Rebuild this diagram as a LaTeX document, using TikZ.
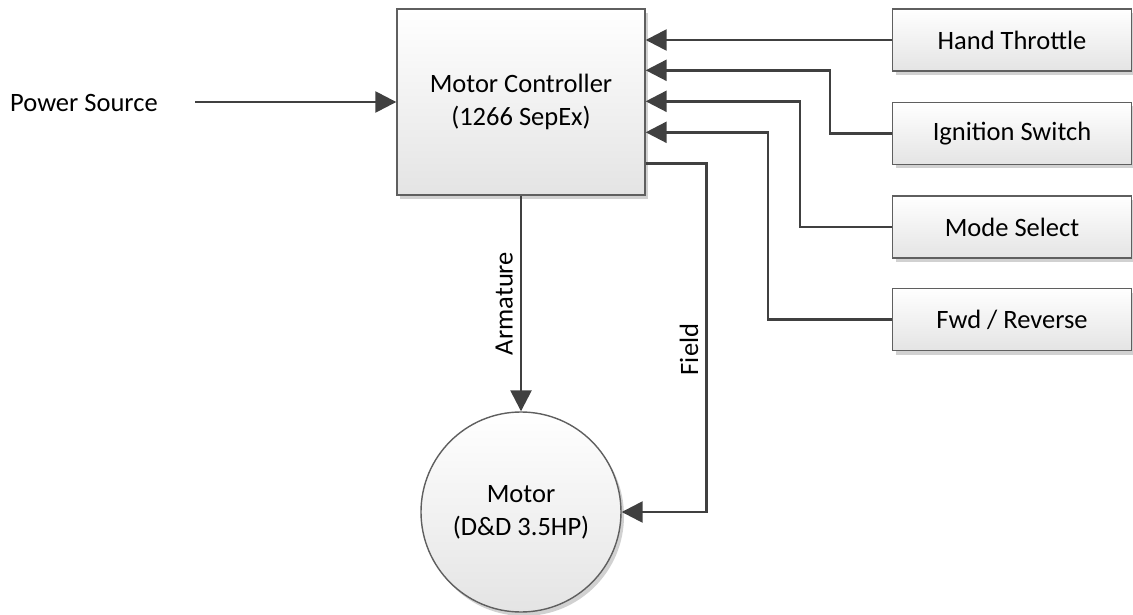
\documentclass[tikz,border=0pt]{standalone}
\usepackage{fontspec}
\setmainfont{Carlito}
\usetikzlibrary{arrows.meta,shadows,calc}
\definecolor{linec}{RGB}{64,64,64}
\definecolor{borderc}{RGB}{95,95,95}
\definecolor{fillbot}{RGB}{228,228,228}
\begin{document}
\begin{tikzpicture}[x=1pt,y=-1pt,
  font=\fontsize{26.5}{33}\selectfont,
  blockbox/.style={draw=borderc, line width=1.4pt, top color=white, bottom color=fillbot,
     drop shadow={shadow xshift=3pt, shadow yshift=-4pt, fill=black!18, opacity=1},
     align=center, inner sep=0pt},
  conn/.style={draw=linec, line width=2.6pt},
  arr/.style={conn, -{Triangle[length=21pt,width=21pt]}},
  rlabel/.style={rotate=90, anchor=south, inner sep=7pt}]
\useasboundingbox (0,0) rectangle (1133,615);

\node[blockbox, minimum width=248pt, minimum height=186pt] (ctrl) at (521,102)
  {Motor Controller\\(1266 SepEx)};
\node[blockbox, circle, minimum size=200pt] (motor) at (521,512)
  {Motor\\(D\&D 3.5HP)};

\node[blockbox, minimum width=239pt, minimum height=62pt] (ht) at (1012,40) {Hand Throttle};
\node[blockbox, minimum width=239pt, minimum height=62pt] (ig) at (1012,133.5) {Ignition Switch};
\node[blockbox, minimum width=239pt, minimum height=62pt] (ms) at (1012,227) {Mode Select};
\node[blockbox, minimum width=239pt, minimum height=62pt] (fr) at (1012,319.5) {Fwd / Reverse};

\node[anchor=west, inner sep=0pt] (ps) at (10,103) {Power Source};
\coordinate (psout) at (195,102);

\draw[arr] (psout) -- (ctrl.west);
\draw[arr] (ht.west) -- (ht.west -| ctrl.east);
\draw[arr] (ig.west) -- ++(-62,0) |- ($(ctrl.north east)+(0,62)$);
\draw[arr] (ms.west) -- ++(-92,0) |- ($(ctrl.north east)+(0,93)$);
\draw[arr] (fr.west) -- ++(-124,0) |- ($(ctrl.north east)+(0,124)$);

\draw[arr] (ctrl.south) -- node[midway, rlabel] {Armature} (motor.north);
\draw[arr] ($(ctrl.north east)+(0,155)$) -| node[pos=0.767, rlabel] {Field} ($(motor.east)+(85,0)$) -- (motor.east);
\end{tikzpicture}
\end{document}
